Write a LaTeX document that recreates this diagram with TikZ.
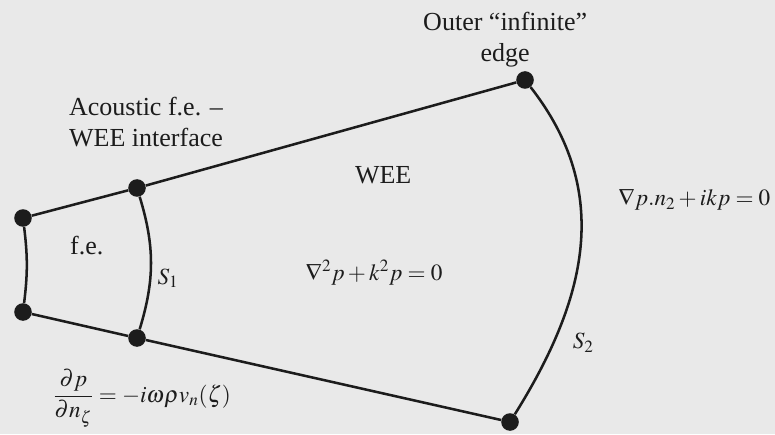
\documentclass[tikz,border=0pt]{standalone}
\usepackage{amsmath}
\usepackage{mathptmx}
\usepackage{fontspec}
\setmainfont{Liberation Serif}
\usepackage{xcolor}
\usetikzlibrary{positioning}
\definecolor{paper}{RGB}{233,233,233}
\definecolor{ink}{RGB}{28,28,28}

\begin{document}
\begin{tikzpicture}[
    dot/.style={circle, fill=ink, inner sep=0pt, minimum size=0.44cm},
    edge/.style={draw=ink, line width=1.8pt},
    label/.style={text=ink, align=center, font=\fontsize{18.5}{22}\selectfont},
    eqn/.style={text=ink, inner sep=1pt, font=\fontsize{16.5}{20}\selectfont}
]
    \fill[paper] (0,0) rectangle (19.375,10.85);
    \useasboundingbox (0,0) rectangle (19.375,10.85);

    % corner points of the two regions
    \node[dot] (fetop)  at (0.575,5.4)   {};
    \node[dot] (febot)  at (0.575,3.05)  {};
    \node[dot] (sonetop) at (3.425,6.15) {};
    \node[dot] (sonebot) at (3.425,2.4)  {};
    \node[dot] (stwotop) at (13.125,8.85) {};
    \node[dot] (stwobot) at (12.75,0.3)  {};

    \draw[edge] (fetop) -- (sonetop) -- (stwotop);
    \draw[edge] (febot) -- (sonebot) -- (stwobot);
    \draw[edge] (fetop) to[bend left=7] (febot);
    \draw[edge] (sonetop) to[bend left=17] (sonebot);
    \draw[edge] (stwotop) to[out=-52, in=58, looseness=1.05] (stwobot);

    % texts
    \node[label] (iface)  at (3.65,7.8)   {Acoustic f.e. --\\WEE interface};
    \node[label] (outer)  at (12.63,9.87) {Outer ``infinite''\\edge};
    \node[label] (wee)    at (9.58,6.48)  {WEE};
    \node[label] (fe)     at (2.17,4.72)  {f.e.};
    \node[eqn]   (sone)   at (4.2,3.9)    {$S_1$};
    \node[eqn]   (stwo)   at (14.58,2.28) {$S_2$};
    \node[eqn]   (helm)   at (9.35,4.03)  {$\nabla^2 p+k^2 p=0$};
    \node[eqn, anchor=east] (rad) at (19.3,5.85) {$\nabla p.n_2+ikp=0$};
    \node[eqn]   (neum)   at (3.55,0.9)   {$\dfrac{\partial p}{\partial n_\zeta}=-i\omega\rho v_n(\zeta)$};
\end{tikzpicture}
\end{document}
